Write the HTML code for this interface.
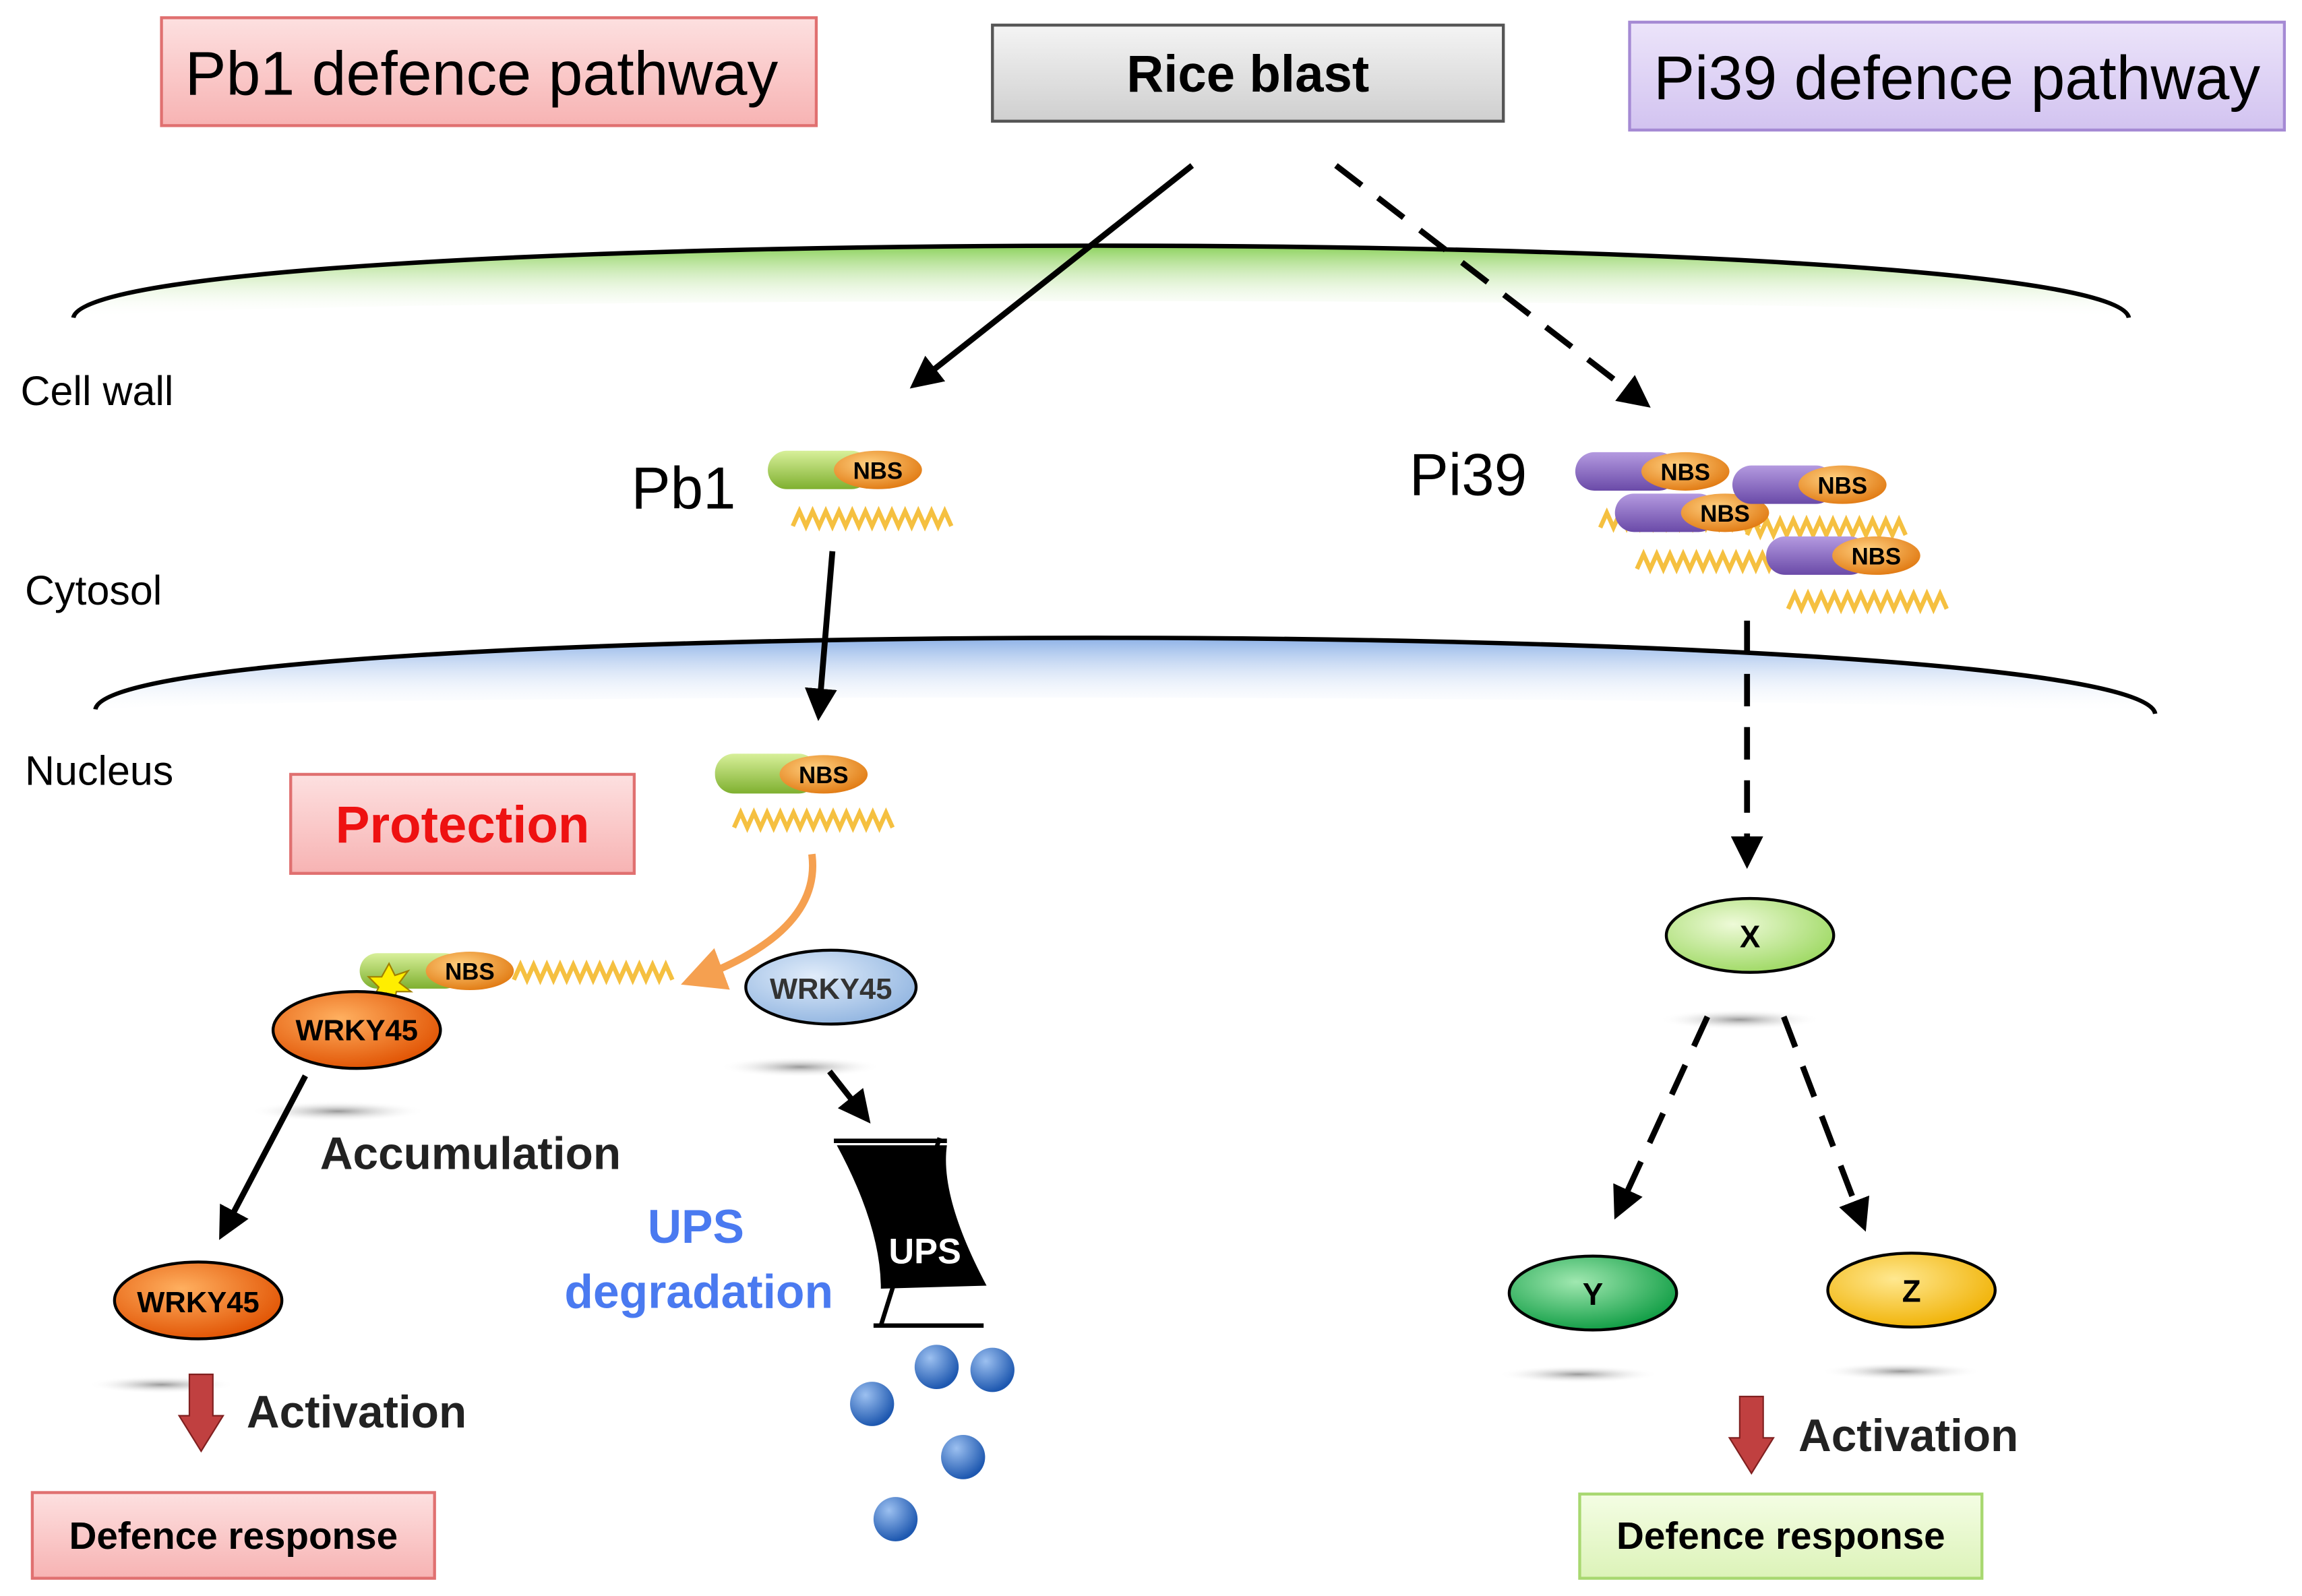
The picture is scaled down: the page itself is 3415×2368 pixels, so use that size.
<!DOCTYPE html>
<html><head><meta charset="utf-8"><style>html,body{margin:0;padding:0;background:#fff}svg{display:block}</style></head>
<body>
<svg width="3415" height="2368" viewBox="0 0 1568 1080" preserveAspectRatio="none" xmlns="http://www.w3.org/2000/svg" font-family="Liberation Sans, sans-serif">
<defs>
<linearGradient id="pink" x1="0" y1="0" x2="0" y2="1"><stop offset="0" stop-color="#fde0e0"/><stop offset="1" stop-color="#f7b3b3"/></linearGradient>
<linearGradient id="gray" x1="0" y1="0" x2="0" y2="1"><stop offset="0" stop-color="#f4f4f4"/><stop offset="1" stop-color="#cfcfcf"/></linearGradient>
<linearGradient id="lav" x1="0" y1="0" x2="0" y2="1"><stop offset="0" stop-color="#ece4fa"/><stop offset="1" stop-color="#d2c3f0"/></linearGradient>
<linearGradient id="lgreen" x1="0" y1="0" x2="0" y2="1"><stop offset="0" stop-color="#f4fde4"/><stop offset="1" stop-color="#dcf3b8"/></linearGradient>
<linearGradient id="gwall" x1="0" y1="0" x2="0" y2="1"><stop offset="0" stop-color="#7fcc48"/><stop offset="1" stop-color="#ffffff" stop-opacity="0"/></linearGradient>
<linearGradient id="bnuc" x1="0" y1="0" x2="0" y2="1"><stop offset="0" stop-color="#7fa8e4"/><stop offset="1" stop-color="#ffffff" stop-opacity="0"/></linearGradient>
<linearGradient id="gcap" x1="0" y1="0" x2="0" y2="1"><stop offset="0" stop-color="#d8f09a"/><stop offset="1" stop-color="#7fb030"/></linearGradient>
<linearGradient id="pcap" x1="0" y1="0" x2="0" y2="1"><stop offset="0" stop-color="#b49ae0"/><stop offset="1" stop-color="#6a4aa8"/></linearGradient>
<radialGradient id="nbs" cx="0.4" cy="0.35" r="0.7"><stop offset="0" stop-color="#ffd080"/><stop offset="1" stop-color="#e07810"/></radialGradient>
<radialGradient id="wo" cx="0.4" cy="0.35" r="0.7"><stop offset="0" stop-color="#ffb060"/><stop offset="1" stop-color="#e05000"/></radialGradient>
<radialGradient id="wb" cx="0.4" cy="0.35" r="0.7"><stop offset="0" stop-color="#e0ecfa"/><stop offset="1" stop-color="#90b4e0"/></radialGradient>
<radialGradient id="xg" cx="0.4" cy="0.35" r="0.7"><stop offset="0" stop-color="#eefad8"/><stop offset="1" stop-color="#9cd860"/></radialGradient>
<radialGradient id="yg" cx="0.4" cy="0.35" r="0.7"><stop offset="0" stop-color="#a0e8b0"/><stop offset="1" stop-color="#0a9a40"/></radialGradient>
<radialGradient id="zg" cx="0.4" cy="0.35" r="0.7"><stop offset="0" stop-color="#ffe890"/><stop offset="1" stop-color="#f0b000"/></radialGradient>
<radialGradient id="ball" cx="0.35" cy="0.3" r="0.7"><stop offset="0" stop-color="#9cc0f0"/><stop offset="1" stop-color="#1e58b0"/></radialGradient>
<radialGradient id="shadow" cx="0.5" cy="0.5" r="0.5"><stop offset="0" stop-color="#999"/><stop offset="1" stop-color="#fff" stop-opacity="0"/></radialGradient>
<marker id="ah2" markerWidth="22" markerHeight="22" refX="14" refY="11" orient="auto" markerUnits="userSpaceOnUse"><path d="M0,0 L22,11 L0,22 z" fill="#000"/></marker>
<marker id="aho" markerWidth="30" markerHeight="30" refX="18" refY="15" orient="auto" markerUnits="userSpaceOnUse"><path d="M0,0 L30,15 L0,30 z" fill="#f5a050"/></marker>
<g id="zz"><path d="M0,0 l4.5,-10 l4.5,10 l4.5,-10 l4.5,10 l4.5,-10 l4.5,10 l4.5,-10 l4.5,10 l4.5,-10 l4.5,10 l4.5,-10 l4.5,10 l4.5,-10 l4.5,10 l4.5,-10 l4.5,10 l4.5,-10 l4.5,10 l4.5,-10 l4.5,10 l4.5,-10 l4.5,10 l4.5,-10 l4.5,10" fill="none" stroke="#f5c040" stroke-width="3"/></g>
<g id="pnbs"><rect x="0" y="0" width="70" height="26" rx="13" fill="url(#pcap)"/><ellipse cx="75" cy="13" rx="30" ry="13" fill="url(#nbs)"/><text x="75" y="19" font-size="16" font-weight="bold" text-anchor="middle">NBS</text></g>
</defs>

<rect x="110" y="12" width="446" height="73" fill="url(#pink)" stroke="#e07070" stroke-width="2"/>
<text x="328" y="64" font-size="42" text-anchor="middle">Pb1 defence pathway</text>
<rect x="676" y="17" width="348" height="65" fill="url(#gray)" stroke="#555" stroke-width="2"/>
<text x="850" y="62" font-size="35" font-weight="bold" text-anchor="middle">Rice blast</text>
<rect x="1110" y="15" width="446" height="73" fill="url(#lav)" stroke="#a58ad4" stroke-width="2"/>
<text x="1333" y="67" font-size="42" text-anchor="middle">Pi39 defence pathway</text>

<path d="M50,215 C60,150 1440,150 1450,215 C1300,200 200,200 50,215 z" fill="url(#gwall)" opacity="0.9"/>
<path d="M50,215 C60,150 1440,150 1450,215" fill="none" stroke="#000" stroke-width="3"/>
<path d="M65,480 C75,414 1458,416 1468,483 C1300,470 250,468 65,480 z" fill="url(#bnuc)" opacity="0.9"/>
<path d="M65,480 C75,414 1458,416 1468,483" fill="none" stroke="#000" stroke-width="3"/>
<text x="14" y="274" font-size="28">Cell wall</text>
<text x="17" y="409" font-size="28">Cytosol</text>
<text x="17" y="531" font-size="28">Nucleus</text>

<line x1="812" y1="112" x2="626" y2="258" stroke="#000" stroke-width="4" marker-end="url(#ah2)"/>
<line x1="910" y1="112" x2="1118" y2="271" stroke="#000" stroke-width="4" stroke-dasharray="22,14" marker-end="url(#ah2)"/>

<text x="430" y="344" font-size="40">Pb1</text>
<rect x="523" y="305" width="70" height="26" rx="13" fill="url(#gcap)"/>
<ellipse cx="598" cy="318" rx="30" ry="13" fill="url(#nbs)"/>
<text x="598" y="324" font-size="16" font-weight="bold" text-anchor="middle">NBS</text>
<use href="#zz" x="540" y="356"/>
<line x1="567" y1="373" x2="558" y2="480" stroke="#000" stroke-width="4" marker-end="url(#ah2)"/>

<text x="960" y="335" font-size="40">Pi39</text>
<use href="#zz" x="1090" y="357"/>
<use href="#zz" x="1190" y="362"/>
<use href="#pnbs" x="1073" y="306"/>
<use href="#pnbs" x="1100" y="334"/>
<use href="#pnbs" x="1180" y="315"/>
<use href="#zz" x="1115" y="385"/>
<use href="#zz" x="1218" y="412"/>
<use href="#pnbs" x="1203" y="363"/>
<line x1="1190" y1="420" x2="1190" y2="580" stroke="#000" stroke-width="4" stroke-dasharray="22,14" marker-end="url(#ah2)"/>

<rect x="487" y="510" width="70" height="27" rx="13" fill="url(#gcap)"/>
<ellipse cx="561" cy="524" rx="30" ry="13" fill="url(#nbs)"/>
<text x="561" y="530" font-size="16" font-weight="bold" text-anchor="middle">NBS</text>
<use href="#zz" x="500" y="560"/>

<rect x="198" y="524" width="234" height="67" fill="url(#pink)" stroke="#e07070" stroke-width="2"/>
<text x="315" y="570" font-size="35" font-weight="bold" fill="#ee1111" text-anchor="middle">Protection</text>

<path d="M553,578 Q560,630 475,662" fill="none" stroke="#f5a050" stroke-width="5" marker-end="url(#aho)"/>

<ellipse cx="230" cy="752" rx="60" ry="7" fill="url(#shadow)"/>
<rect x="245" y="645" width="70" height="24" rx="12" fill="url(#gcap)"/>
<ellipse cx="320" cy="657" rx="30" ry="13" fill="url(#nbs)"/>
<text x="320" y="663" font-size="16" font-weight="bold" text-anchor="middle">NBS</text>
<use href="#zz" x="350" y="663"/>
<polygon points="265,652 269,660 278,657 272,665 280,671 270,671 268,680 263,672 254,676 258,668 251,661 260,661" fill="#ffee00" stroke="#a08000" stroke-width="1"/>
<ellipse cx="243" cy="697" rx="57" ry="26" fill="url(#wo)" stroke="#000" stroke-width="2"/>
<text x="243" y="704" font-size="20" font-weight="bold" text-anchor="middle">WRKY45</text>

<ellipse cx="545" cy="722" rx="55" ry="7" fill="url(#shadow)"/>
<ellipse cx="566" cy="668" rx="58" ry="25" fill="url(#wb)" stroke="#000" stroke-width="2"/>
<text x="566" y="676" font-size="20" font-weight="bold" fill="#333" text-anchor="middle">WRKY45</text>

<line x1="208" y1="728" x2="153" y2="832" stroke="#000" stroke-width="4" marker-end="url(#ah2)"/>
<text x="218" y="791" font-size="31" font-weight="bold" fill="#222">Accumulation</text>

<ellipse cx="110" cy="937" rx="50" ry="6" fill="url(#shadow)"/>
<ellipse cx="135" cy="880" rx="57" ry="26" fill="url(#wo)" stroke="#000" stroke-width="2"/>
<text x="135" y="888" font-size="20" font-weight="bold" text-anchor="middle">WRKY45</text>
<polygon points="129,930 145,930 145,958 152,958 137,982 122,958 129,958" fill="#c04040" stroke="#802020" stroke-width="1"/>
<text x="168" y="966" font-size="31" font-weight="bold" fill="#222">Activation</text>
<rect x="22" y="1010" width="274" height="58" fill="url(#pink)" stroke="#e07070" stroke-width="2"/>
<text x="159" y="1048" font-size="26" font-weight="bold" text-anchor="middle">Defence response</text>

<line x1="565" y1="725" x2="588" y2="754" stroke="#000" stroke-width="4" marker-end="url(#ah2)"/>
<path d="M570,775 L645,775 Q640,810 672,870 L600,872 Q600,830 570,775 z" fill="#000"/>
<line x1="568" y1="772" x2="645" y2="772" stroke="#000" stroke-width="3"/>
<line x1="595" y1="897" x2="670" y2="897" stroke="#000" stroke-width="3"/>
<line x1="640" y1="770" x2="600" y2="897" stroke="#000" stroke-width="3"/>
<text x="630" y="855" font-size="24" font-weight="bold" fill="#fff" text-anchor="middle">UPS</text>
<text x="474" y="841" font-size="32" font-weight="bold" fill="#4a7af0" text-anchor="middle">UPS</text>
<text x="476" y="885" font-size="32" font-weight="bold" fill="#4a7af0" text-anchor="middle">degradation</text>
<circle cx="594" cy="950" r="15" fill="url(#ball)"/>
<circle cx="638" cy="925" r="15" fill="url(#ball)"/>
<circle cx="676" cy="927" r="15" fill="url(#ball)"/>
<circle cx="656" cy="986" r="15" fill="url(#ball)"/>
<circle cx="610" cy="1028" r="15" fill="url(#ball)"/>

<ellipse cx="1185" cy="690" rx="55" ry="7" fill="url(#shadow)"/>
<ellipse cx="1192" cy="633" rx="57" ry="25" fill="url(#xg)" stroke="#000" stroke-width="2"/>
<text x="1192" y="641" font-size="21" font-weight="bold" text-anchor="middle">X</text>
<line x1="1163" y1="688" x2="1103" y2="818" stroke="#000" stroke-width="4" stroke-dasharray="22,14" marker-end="url(#ah2)"/>
<line x1="1215" y1="688" x2="1268" y2="826" stroke="#000" stroke-width="4" stroke-dasharray="22,14" marker-end="url(#ah2)"/>
<ellipse cx="1075" cy="930" rx="55" ry="6" fill="url(#shadow)"/>
<ellipse cx="1085" cy="875" rx="57" ry="25" fill="url(#yg)" stroke="#000" stroke-width="2"/>
<text x="1085" y="883" font-size="21" font-weight="bold" text-anchor="middle">Y</text>
<ellipse cx="1295" cy="928" rx="55" ry="6" fill="url(#shadow)"/>
<ellipse cx="1302" cy="873" rx="57" ry="25" fill="url(#zg)" stroke="#000" stroke-width="2"/>
<text x="1302" y="881" font-size="21" font-weight="bold" text-anchor="middle">Z</text>
<polygon points="1185,945 1201,945 1201,973 1208,973 1193,997 1178,973 1185,973" fill="#c04040" stroke="#802020" stroke-width="1"/>
<text x="1225" y="982" font-size="31" font-weight="bold" fill="#222">Activation</text>
<rect x="1076" y="1011" width="274" height="57" fill="url(#lgreen)" stroke="#a8d870" stroke-width="2"/>
<text x="1213" y="1048" font-size="26" font-weight="bold" text-anchor="middle">Defence response</text>
</svg>
</body></html>
